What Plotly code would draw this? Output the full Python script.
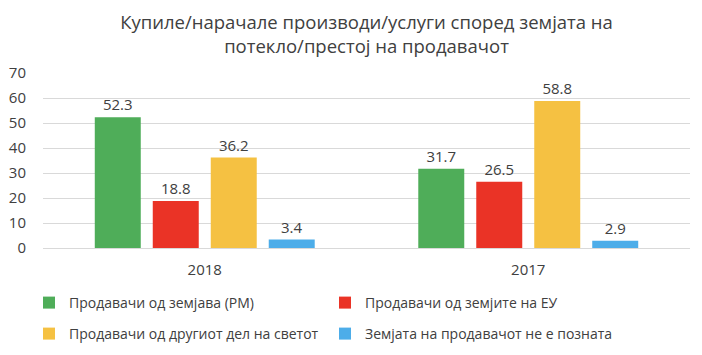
import plotly.graph_objects as go

categories = ["2018", "2017"]
series_names = [
    "Продавачи од земјава (РМ)",
    "Продавачи од земјите на ЕУ",
    "Продавачи од другиот дел на светот",
    "Земјата на продавачот не е позната",
]
values_rm = [52.3, 31.7]
values_eu = [18.8, 26.5]
values_world = [36.2, 58.8]
values_unknown = [3.4, 2.9]
colors = ["#4FAD59", "#EA3326", "#F5C142", "#4DADE9"]
legends = ["legend", "legend", "legend2", "legend2"]

title_text = "Купиле/нарачале производи/услуги според земјата на<br>потекло/престој на продавачот"

font_family = "Open Sans"
text_color = "#404040"

fig = go.Figure()
for name, vals, col, lg in zip(series_names, [values_rm, values_eu, values_world, values_unknown], colors, legends):
    fig.add_trace(go.Bar(
        x=categories, y=vals, name=name,
        marker=dict(color=col, line=dict(width=0)),
        text=[f"{v:.1f}" for v in vals],
        textposition="outside",
        textfont=dict(size=15, color=text_color, family=font_family),
        cliponaxis=False,
        legend=lg,
    ))

# page body has an 8px default margin, so figure is drawn at (8, 8)
OFF = 8
W, H = 702 - OFF, 355 - OFF
ml, mt = 43 - OFF, 73 - OFF
plot_bottom = 248 - OFF
plot_right = 690 - OFF
mb = H - plot_bottom
mr = W - plot_right
plot_h = H - mt - mb
plot_w = W - ml - mr

def py(ypx):
    return (H - mb - (ypx - OFF)) / plot_h

def px(xpx):
    return ((xpx - OFF) - ml) / plot_w

legend_common = dict(
    orientation="h",
    font=dict(size=14, color=text_color, family=font_family),
    entrywidth=251, entrywidthmode="pixels",
    itemwidth=30,
    xanchor="left", yanchor="middle",
    bgcolor="rgba(0,0,0,0)",
    traceorder="normal",
)

fig.update_layout(
    width=W, height=H,
    margin=dict(l=ml, r=mr, t=mt, b=mb, autoexpand=False),
    paper_bgcolor="white", plot_bgcolor="white",
    font=dict(family=font_family, color=text_color),
    title=dict(text=title_text, x=0.5, xanchor="center", xref="paper",
               y=1 - 21 / H, yanchor="top", yref="container",
               font=dict(size=18.5, color=text_color, family=font_family)),
    barmode="group",
    bargap=0.283,
    bargroupgap=0.207,
    showlegend=True,
    legend=dict(x=px(29), y=py(303), **legend_common),
    legend2=dict(x=px(29), y=py(334), **legend_common),
    xaxis=dict(showgrid=False, showline=False, ticks="", automargin=False,
               ticklabelstandoff=11,
               tickfont=dict(size=15, color=text_color, family=font_family)),
    yaxis=dict(range=[0, 70], dtick=10, showgrid=True, gridcolor="#D9D9D9", gridwidth=1,
               zeroline=True, zerolinecolor="#D9D9D9", zerolinewidth=1,
               showline=False, ticks="", ticklabelstandoff=16, automargin=False,
               tickfont=dict(size=15, color=text_color, family=font_family)),
)

fig.write_html("out.html")
